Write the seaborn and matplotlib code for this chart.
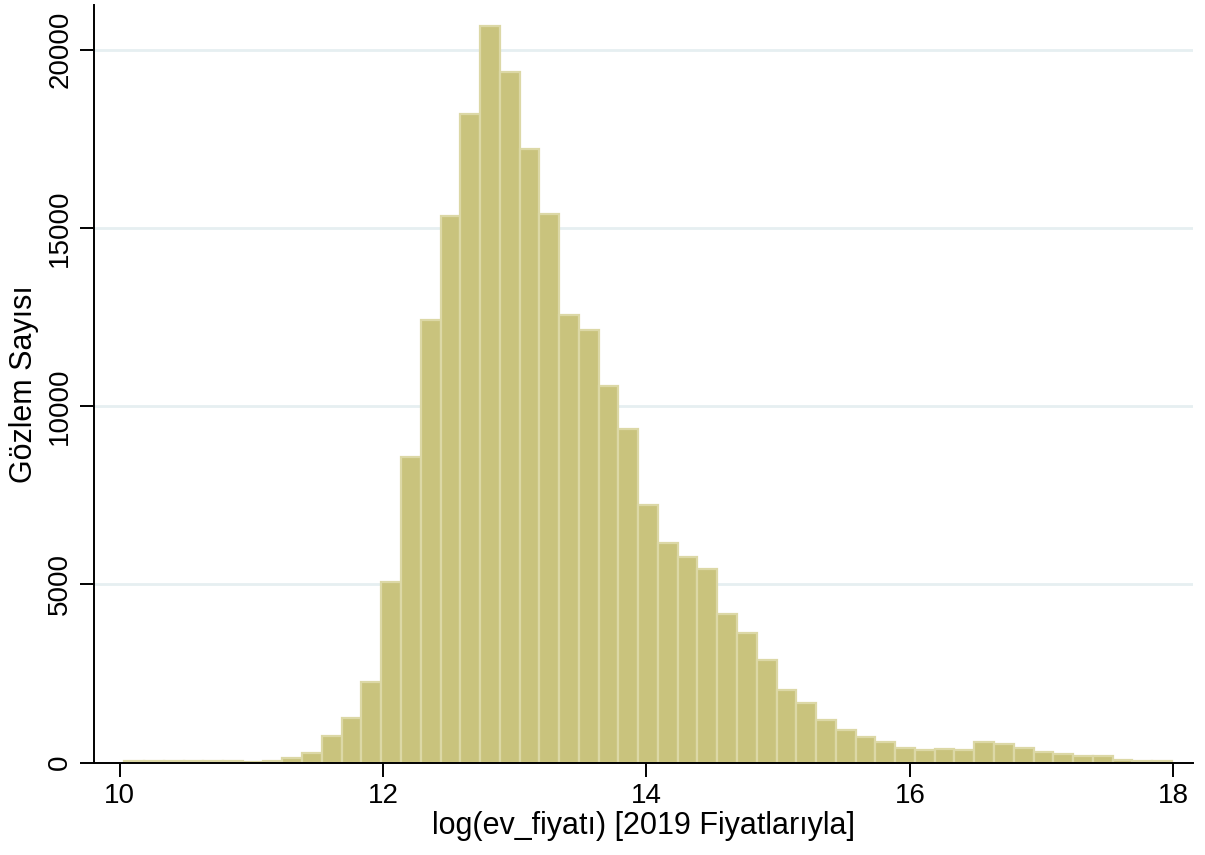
import numpy as np
import pandas as pd
import matplotlib
matplotlib.use('Agg')
import matplotlib.pyplot as plt
import seaborn as sns

# histogram bins (53 equal bins)
bin_start = 10.035
bin_end = 17.99
n_bins = 53

# observations per bin, left to right
counts = [60, 55, 55, 50, 50, 45, 30, 45, 130, 280,
          740, 1250, 2250, 5060, 8570, 12430, 15330, 18210, 20660, 19370,
          17220, 15390, 12550, 12140, 10560, 9350, 7220, 6160, 5780, 5430,
          4170, 3650, 2870, 2040, 1680, 1190, 930, 710, 590, 400,
          350, 385, 365, 570, 515, 400, 305, 245, 177, 177,
          70, 60, 55]

edges = np.linspace(bin_start, bin_end, n_bins + 1)
df = pd.DataFrame({'log_fiyat': (edges[:-1] + edges[1:]) / 2,
                   'n': counts})

sns.set_style('white')
plt.rcParams['font.family'] = ['Liberation Sans', 'DejaVu Sans']

fig = plt.figure(figsize=(12.05, 8.55), dpi=100)
ax = fig.add_axes([0.078, 0.108, 0.912, 0.886])

sns.histplot(data=df, x='log_fiyat', weights='n', bins=list(edges), ax=ax,
             color='#C9C37D', edgecolor='#DCD8A6', linewidth=1.6, alpha=1)

ax.set_xlim(9.805, 18.15)
ax.set_ylim(0, 21250)
ax.set_xticks([10, 12, 14, 16, 18])
ax.set_yticks([0, 5000, 10000, 15000, 20000])
ax.yaxis.grid(True, color='#E6EFF1', linewidth=2)
ax.xaxis.grid(False)
ax.set_axisbelow(True)

for s in ['top', 'right']:
    ax.spines[s].set_visible(False)
for s in ['left', 'bottom']:
    ax.spines[s].set_color('black')
    ax.spines[s].set_linewidth(1.4)

ax.tick_params(axis='both', direction='out', length=10, width=1.4,
               color='black', labelsize=20, labelcolor='black', pad=5, left=True, bottom=True)
plt.setp(ax.get_yticklabels(), rotation=90, va='center')

ax.set_xlabel('log(ev_fiyatı) [2019 Fiyatlarıyla]', fontsize=22, color='black', labelpad=1)
ax.set_ylabel('Gözlem Sayısı', fontsize=22, color='black', labelpad=6)

fig.savefig('out.png', dpi=100)
